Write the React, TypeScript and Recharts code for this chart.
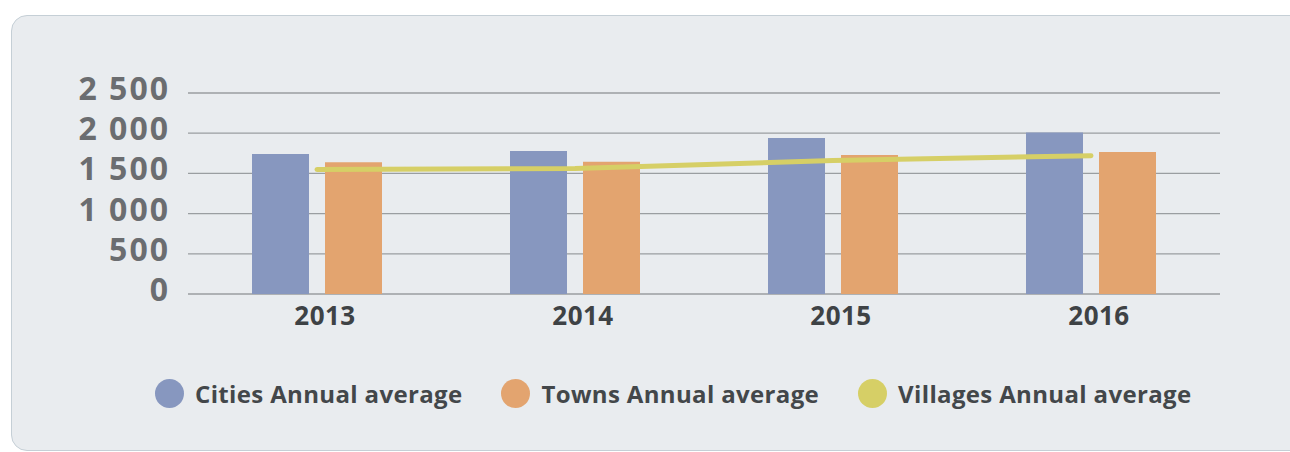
import React from 'react';
import { Bar, CartesianGrid, ComposedChart, Legend, Line, XAxis, YAxis } from 'recharts';

const years = ['2013', '2014', '2015', '2016'];
const citiesAvg = [1740, 1780, 1940, 2010];
const townsAvg = [1640, 1645, 1730, 1765];
const villagesAvg = [1550, 1560, 1660, 1720];
const yTicks = [0, 500, 1000, 1500, 2000, 2500];

const data = years.map((year, i) => ({
  year,
  cities: citiesAvg[i],
  towns: townsAvg[i],
  villages: villagesAvg[i],
}));

const FONT = "'Open Sans', sans-serif";

const fmt = (v: number) => String(v).replace(/\B(?=(\d{3})+(?!\d))/g, ' ');

const YTick = ({ x, y, payload }: any) => (
  <text
    x={x + 2}
    y={y}
    dy={7}
    textAnchor='end'
    fill='#6b6d70'
    fontSize={32}
    fontWeight={700}
    letterSpacing={2}
    fontFamily={FONT}
  >
    {fmt(payload.value)}
  </text>
);

const XTick = ({ x, y, payload }: any) => (
  <text
    x={x + 8}
    y={y}
    dy={31}
    textAnchor='middle'
    fill='#3e4245'
    fontSize={26}
    fontWeight={700}
    letterSpacing={0.5}
    fontFamily={FONT}
  >
    {payload.value}
  </text>
);

const LegendContent = ({ payload }: any) => (
  <div style={{ height: 60, display: 'flex', alignItems: 'center', paddingLeft: 155, fontFamily: FONT }}>
    {(payload || []).map((p: any, i: number) => (
      <div key={p.value} style={{ display: 'flex', alignItems: 'center', marginLeft: i === 0 ? 0 : 39 }}>
        <span style={{ width: 29, height: 29, borderRadius: '50%', background: p.color, marginRight: 11 }} />
        <span style={{ fontSize: 24, fontWeight: 700, letterSpacing: 0.35, color: '#43474a', whiteSpace: 'nowrap' }}>
          {p.value}
        </span>
      </div>
    ))}
  </div>
);

export default function App() {
  return (
    <div style={{ position: 'absolute', left: 0, top: 0, width: 1290, height: 452, overflow: 'hidden', background: '#fff' }}>
      <div
        style={{
          position: 'absolute',
          left: 11,
          top: 15,
          width: 1320,
          height: 434,
          background: '#e9ecef',
          border: '1.5px solid #c5cfd6',
          borderRadius: 16,
        }}
      />
      <div style={{ position: 'absolute', left: 0, top: 0 }}>
        <ComposedChart
          width={1290}
          height={452}
          data={data}
          margin={{ top: 93, right: 70, bottom: 29, left: 0 }}
          barSize={57}
          barGap={16}
        >
          <CartesianGrid vertical={false} stroke='#9a9ea1' strokeWidth={1.3} />
          <XAxis dataKey='year' axisLine={false} tickLine={false} tickSize={0} tickMargin={0} height={69} tick={<XTick />} />
          <YAxis
            domain={[0, 2500]}
            ticks={yTicks}
            axisLine={false}
            tickLine={false}
            tickSize={0}
            tickMargin={20}
            width={188}
            tick={<YTick />}
          />
          <Legend verticalAlign='bottom' content={<LegendContent />} />
          <Bar dataKey='cities' name='Cities Annual average' fill='#8797bf' isAnimationActive={false} />
          <Bar dataKey='towns' name='Towns Annual average' fill='#e3a46f' isAnimationActive={false} />
          <Line
            dataKey='villages'
            name='Villages Annual average'
            stroke='#d6cf66'
            strokeWidth={5}
            strokeLinecap='round'
            dot={false}
            activeDot={false}
            type='linear'
            isAnimationActive={false}
          />
        </ComposedChart>
      </div>
    </div>
  );
}
